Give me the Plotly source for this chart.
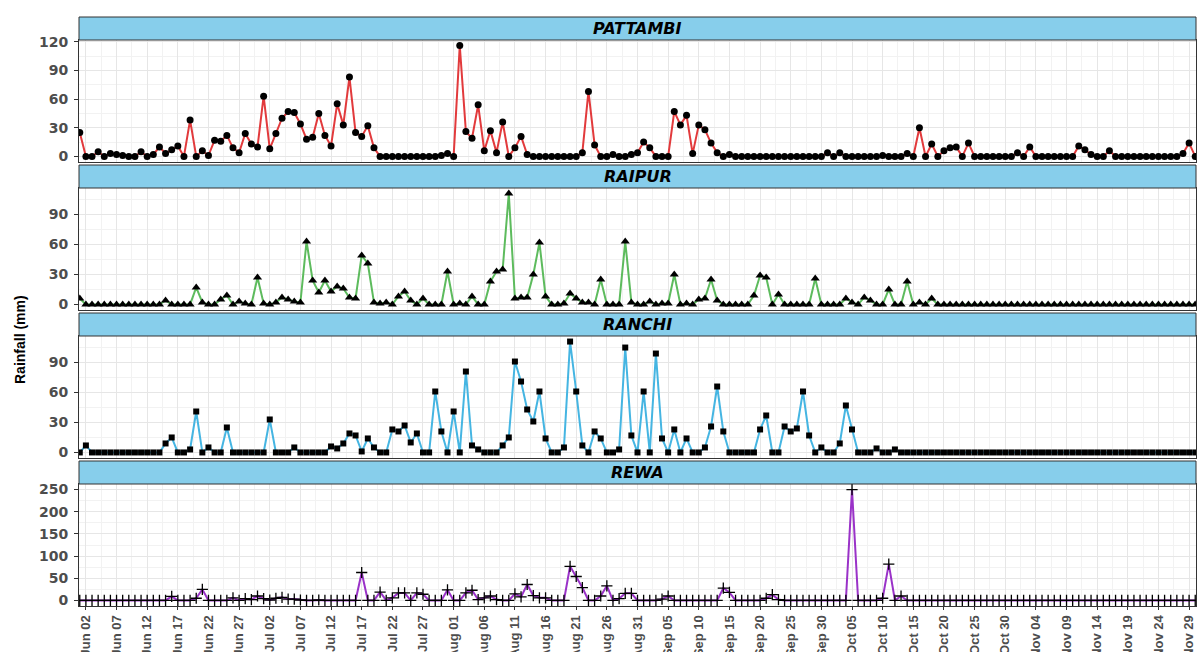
import pandas as pd
import plotly.graph_objects as go

# ---------------- data ----------------
dates = pd.date_range("2019-06-01", periods=183, freq="D")

station_names = ["PATTAMBI", "RAIPUR", "RANCHI", "REWA"]

pattambi = [
    25, 0, 0, 5, 0, 3, 2, 1, 0, 0,
    5, 0, 2, 10, 3, 7, 11, 0, 38, 0,
    6, 1, 17, 16, 22, 9, 4, 24, 13, 10,
    63, 8, 24, 40, 47, 46, 34, 18, 20, 45,
    22, 11, 55, 33, 83, 25, 21, 32, 9, 0,
    0, 0, 0, 0, 0, 0, 0, 0, 0, 1,
    3, 0, 116, 26, 19, 54, 6, 27, 4, 36,
    0, 9, 21, 2, 0, 0, 0, 0, 0, 0,
    0, 0, 4, 68, 12, 0, 0, 2, 0, 0,
    2, 4, 15, 9, 0, 0, 0, 47, 33, 43,
    3, 33, 28, 14, 4, 0, 2, 0, 0, 0,
    0, 0, 0, 0, 0, 0, 0, 0, 0, 0,
    0, 0, 4, 0, 4, 0, 0, 0, 0, 0,
    0, 1, 0, 0, 0, 3, 0, 30, 0, 13,
    0, 6, 9, 10, 0, 14, 0, 0, 0, 0,
    0, 0, 0, 4, 0, 10, 0, 0, 0, 0,
    0, 0, 0, 11, 7, 2, 0, 0, 6, 0,
    0, 0, 0, 0, 0, 0, 0, 0, 0, 0,
    3, 14, 0,
]

raipur = [
    6, 0, 0, 0, 0, 0, 0, 0, 0, 0,
    0, 0, 0, 0, 4, 0, 0, 0, 0, 17,
    2, 0, 0, 5, 9, 0, 3, 1, 0, 27,
    1, 0, 2, 7, 5, 3, 2, 63, 24, 12,
    24, 13, 18, 16, 7, 6, 49, 41, 2, 1,
    2, 0, 8, 13, 4, 0, 6, 0, 0, 0,
    33, 0, 1, 0, 8, 0, 0, 23, 33, 35,
    111, 6, 7, 7, 30, 62, 8, 0, 0, 1,
    11, 6, 2, 2, 0, 25, 0, 0, 0, 63,
    2, 0, 0, 3, 0, 1, 1, 30, 0, 1,
    0, 5, 6, 25, 4, 0, 0, 0, 0, 0,
    9, 29, 27, 0, 10, 0, 0, 0, 0, 0,
    26, 0, 0, 0, 0, 6, 2, 0, 7, 4,
    0, 0, 15, 0, 0, 23, 0, 2, 0, 6,
    0, 0, 0, 0, 0, 0, 0, 0, 0, 0,
    0, 0, 0, 0, 0, 0, 0, 0, 0, 0,
    0, 0, 0, 0, 0, 0, 0, 0, 0, 0,
    0, 0, 0, 0, 0, 0, 0, 0, 0, 0,
    0, 0, 0,
]

ranchi = [
    0, 7, 0, 0, 0, 0, 0, 0, 0, 0,
    0, 0, 0, 0, 9, 15, 0, 0, 3, 41,
    0, 5, 0, 0, 25, 0, 0, 0, 0, 0,
    0, 33, 0, 0, 0, 5, 0, 0, 0, 0,
    0, 6, 4, 9, 19, 17, 1, 14, 5, 0,
    0, 23, 21, 27, 10, 19, 0, 0, 61, 21,
    0, 41, 0, 81, 7, 3, 0, 0, 0, 7,
    15, 91, 71, 43, 31, 61, 14, 0, 0, 5,
    111, 61, 7, 0, 21, 14, 0, 0, 3, 105,
    17, 0, 61, 0, 99, 14, 0, 23, 0, 14,
    0, 0, 5, 26, 66, 21, 0, 0, 0, 0,
    0, 23, 37, 0, 0, 26, 21, 24, 61, 17,
    0, 5, 0, 0, 9, 47, 23, 0, 0, 0,
    4, 0, 0, 3, 0, 0, 0, 0, 0, 0,
    0, 0, 0, 0, 0, 0, 0, 0, 0, 0,
    0, 0, 0, 0, 0, 0, 0, 0, 0, 0,
    0, 0, 0, 0, 0, 0, 0, 0, 0, 0,
    0, 0, 0, 0, 0, 0, 0, 0, 0, 0,
    0, 0, 0,
]

rewa = [
    0, 0, 0, 0, 0, 0, 0, 0, 0, 0,
    0, 0, 0, 0, 0, 9, 0, 0, 0, 5,
    25, 0, 0, 0, 0, 6, 0, 4, 2, 10,
    4, 1, 5, 7, 3, 3, 1, 0, 0, 1,
    0, 0, 0, 0, 0, 0, 63, 0, 0, 19,
    0, 6, 17, 17, 0, 17, 14, 0, 0, 0,
    24, 0, 0, 17, 23, 2, 6, 10, 2, 0,
    0, 15, 8, 36, 11, 6, 6, 0, 0, 0,
    77, 54, 29, 0, 0, 10, 33, 0, 4, 16,
    16, 0, 0, 0, 0, 3, 10, 0, 0, 0,
    0, 0, 0, 0, 0, 28, 18, 0, 0, 0,
    0, 0, 5, 13, 2, 0, 0, 0, 0, 0,
    0, 0, 0, 0, 0, 0, 250, 0, 0, 0,
    0, 5, 82, 0, 10, 0, 0, 0, 0, 0,
    0, 0, 0, 0, 0, 0, 0, 0, 0, 0,
    0, 0, 0, 0, 0, 0, 0, 0, 0, 0,
    0, 0, 0, 0, 0, 0, 0, 0, 0, 0,
    0, 0, 0, 0, 0, 0, 0, 0, 0, 0,
    0, 0, 0,
]

series = [pattambi, raipur, ranchi, rewa]
y_dticks = [30, 30, 30, 50]

# ---------------- styles ----------------
line_colors = ["#E23A3C", "#5DBB5D", "#45B5E2", "#9A32C8"]
marker_symbols = ["circle", "triangle-up", "square", "cross-thin-open"]
marker_sizes = [7, 8, 6, 8]

W, H = 1198, 652
M_L, M_R, M_T, M_B = 79, 2, 0, 46
PAPER_H = H - M_T - M_B
STRIP_TOPS = [17, 165, 313, 461]
STRIP_H = 23
PLOT_H = 122

BORDER = "#333333"
GRID_MAJOR = "#E6E6E6"
GRID_MINOR = "#F2F2F2"
TICK_GREY = "#4D4D4D"
STRIP_FILL = "#87CEEB"

DAY_MS = 86400000


def py(px):
    return 1 - px / PAPER_H


fig = go.Figure()

for i, vals in enumerate(series):
    sfx = "" if i == 0 else str(i + 1)
    mk = dict(symbol=marker_symbols[i], size=marker_sizes[i], color="black")
    if marker_symbols[i] == "cross-thin-open":
        mk["line"] = dict(color="black", width=1.3)
    else:
        mk["line"] = dict(width=0)
    fig.add_trace(go.Scatter(
        x=dates, y=vals, mode="lines+markers",
        line=dict(color=line_colors[i], width=2),
        marker=mk, xaxis="x" + sfx, yaxis="y" + sfx,
        showlegend=False, hoverinfo="x+y",
    ))

layout = dict(
    width=W, height=H, template="none",
    margin=dict(l=M_L, r=M_R, t=M_T, b=M_B, pad=0),
    paper_bgcolor="white", plot_bgcolor="white",
    shapes=[], annotations=[], showlegend=False,
)

x_range = ["2019-05-31 21:00", "2019-11-30 03:00"]

for i, vals in enumerate(series):
    sfx = "" if i == 0 else str(i + 1)
    top = STRIP_TOPS[i] + STRIP_H
    bot = top + PLOT_H
    ymin, ymax = min(vals), max(vals)
    span = ymax - ymin
    yr = [ymin - 0.05 * span, ymax + 0.05 * span]
    bottom = (i == len(series) - 1)
    layout["xaxis" + sfx] = dict(
        domain=[0, 1], anchor="y" + sfx, type="date", range=x_range,
        tick0="2019-06-02", dtick=5 * DAY_MS, tickformat="%b %d",
        showgrid=True, gridcolor=GRID_MAJOR, gridwidth=1,
        minor=dict(tick0="2019-06-02", dtick=2.5 * DAY_MS, showgrid=True,
                   gridcolor=GRID_MINOR, gridwidth=1, ticks=""),
        showline=True, mirror=True, linecolor=BORDER, linewidth=1,
        zeroline=False, automargin=False,
        showticklabels=bottom, ticks="outside" if bottom else "",
        ticklen=3, tickcolor=BORDER, tickwidth=1, tickangle=-90,
        tickfont=dict(family="Liberation Sans, Arial, sans-serif", size=13,
                      color=TICK_GREY, weight="bold"),
    )
    layout["yaxis" + sfx] = dict(
        domain=[py(bot), py(top)], anchor="x" + sfx, range=yr,
        tick0=0, dtick=y_dticks[i],
        showgrid=True, gridcolor=GRID_MAJOR, gridwidth=1,
        minor=dict(tick0=0, dtick=y_dticks[i] / 2, showgrid=True,
                   gridcolor=GRID_MINOR, gridwidth=1, ticks=""),
        showline=True, mirror=True, linecolor=BORDER, linewidth=1,
        zeroline=False, automargin=False,
        ticks="outside", ticklen=4, tickcolor=BORDER, tickwidth=1,
        ticklabelstandoff=3,
        tickfont=dict(family="DejaVu Sans, sans-serif", size=14,
                      color=TICK_GREY, weight="bold"),
    )
    # strip header
    layout["shapes"].append(dict(
        type="rect", xref="paper", yref="paper", x0=0, x1=1,
        y0=py(STRIP_TOPS[i] + STRIP_H), y1=py(STRIP_TOPS[i]),
        fillcolor=STRIP_FILL, line=dict(color=BORDER, width=1), layer="above",
    ))
    layout["annotations"].append(dict(
        xref="paper", yref="paper", x=0.5,
        y=py(STRIP_TOPS[i] + STRIP_H / 2), xanchor="center", yanchor="middle",
        text="<b><i>" + station_names[i] + "</i></b>", showarrow=False,
        font=dict(family="DejaVu Sans, sans-serif", size=16, color="black"),
    ))

layout["annotations"].append(dict(
    xref="paper", yref="paper", x=(20 - M_L) / (W - M_L - M_R), y=py(339),
    xanchor="center", yanchor="middle", textangle=-90,
    text="<b>Rainfall (mm)</b>", showarrow=False,
    font=dict(family="Liberation Sans, Arial, sans-serif", size=14, color="black"),
))

fig.update_layout(**layout)
fig.write_html(
    "out.html",
    config={"displayModeBar": False},
    post_script="document.body.style.margin='0px';document.body.style.overflow='hidden';",
)
